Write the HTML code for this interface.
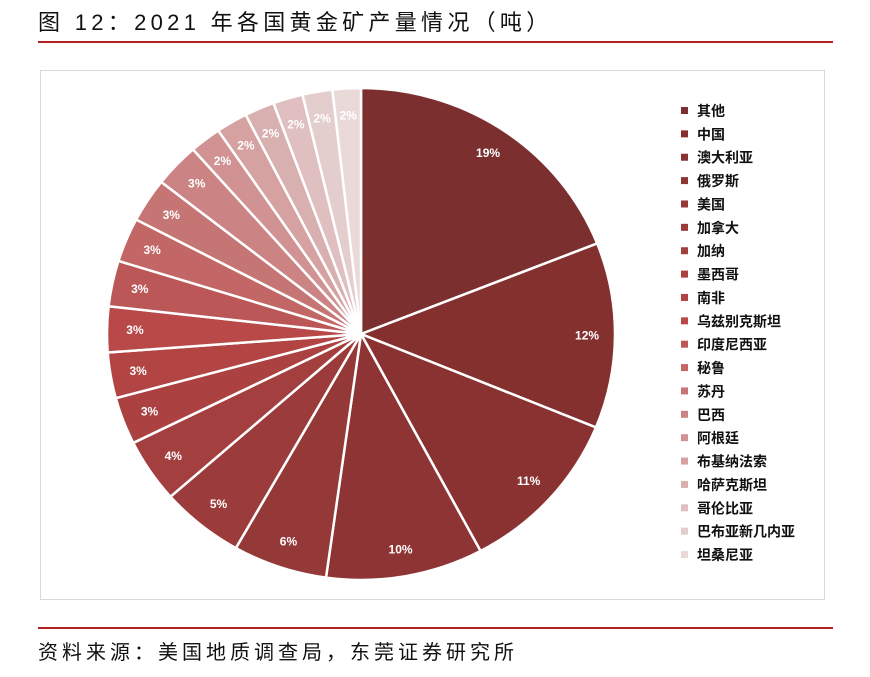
<!DOCTYPE html>
<html><head><meta charset="utf-8"><style>
body{margin:0;width:870px;height:677px;background:#fff;font-family:"Liberation Sans","Noto Sans CJK SC",sans-serif;position:relative;overflow:hidden}
.title{position:absolute;left:38px;top:5px;font-size:22px;color:#111;letter-spacing:4.3px}
.rule{position:absolute;left:38px;width:795px;height:2px;background:#b22222}
.src{position:absolute;left:38px;top:636px;font-size:20px;color:#111;letter-spacing:4px}
.frame{position:absolute;left:40px;top:70px;width:785px;height:530px;border:1px solid #d9d9d9;box-sizing:border-box}
</style></head><body>
<div class="title">图 12：2021 年各国黄金矿产量情况（吨）</div>
<div class="rule" style="top:41px"></div>
<div class="frame"></div>
<svg id="chart" width="870" height="677" style="position:absolute;left:0;top:0"></svg>
<div class="rule" style="top:627px"></div>
<div class="src">资料来源：美国地质调查局，东莞证券研究所</div>
<script>
const categories=["其他","中国","澳大利亚","俄罗斯","美国","加拿大","加纳","墨西哥","南非","乌兹别克斯坦","印度尼西亚","秘鲁","苏丹","巴西","阿根廷","布基纳法索","哈萨克斯坦","哥伦比亚","巴布亚新几内亚","坦桑尼亚"];
const values=[19,12.2,11,10,6,5.3,4.2,3.1,3.0,3.0,3.0,2.9,2.9,2.9,2.0,2.0,1.9,1.9,1.9,1.8];
const pctLabels=["19%","12%","11%","10%","6%","5%","4%","3%","3%","3%","3%","3%","3%","3%","2%","2%","2%","2%","2%","2%"];
const colors=["#7b2f2f","#83302f","#8a3232","#8f3435","#953838","#9c3b3b","#a43f3f","#ab4141","#b24444","#b94949","#bc5757","#c26666","#c67575","#cb8383","#d09292","#d5a1a1","#d9b0b0","#dfbfbf","#e4cdcd","#ead9d9"];
const svg=document.getElementById('chart');const NS='http://www.w3.org/2000/svg';
const cx=361,cy=334,rx=254,ry=246;
const total=values.reduce((a,b)=>a+b,0);
function pt(a,f){return [cx+rx*f*Math.sin(a),cy-ry*f*Math.cos(a)];}
let acc=0;
values.forEach((v,i)=>{
 const a0=acc/total*2*Math.PI;acc+=v;const a1=acc/total*2*Math.PI;
 const p0=pt(a0,1),p1=pt(a1,1);
 const path=document.createElementNS(NS,'path');
 path.setAttribute('d',`M${cx},${cy}L${p0[0]},${p0[1]}A${rx},${ry} 0 ${a1-a0>Math.PI?1:0} 1 ${p1[0]},${p1[1]}Z`);
 path.setAttribute('fill',colors[i]);path.setAttribute('stroke','#fff');path.setAttribute('stroke-width','2.5');
 
 
 svg.appendChild(path);
 const m=(a0+a1)/2,lp=pt(m,0.89);
 const t=document.createElementNS(NS,'text');
 t.setAttribute('x',lp[0]);t.setAttribute('y',lp[1]+4);t.setAttribute('text-anchor','middle');
 t.setAttribute('font-size','12');t.setAttribute('font-weight','bold');t.setAttribute('fill','#fff');
 t.textContent=pctLabels[i];
 
 
 svg.appendChild(t);
 const y=111+i*23.37;
 const r=document.createElementNS(NS,'rect');
 r.setAttribute('x',681);r.setAttribute('y',y-4);r.setAttribute('width',7);r.setAttribute('height',7);r.setAttribute('fill',colors[i]);
 
 
 svg.appendChild(r);
 const lt=document.createElementNS(NS,'text');
 lt.setAttribute('x',697);lt.setAttribute('y',y+5);lt.setAttribute('font-size','14');lt.setAttribute('font-weight','bold');lt.setAttribute('fill','#111');
 lt.setAttribute('font-family','"Liberation Sans","Noto Sans CJK SC",sans-serif');
 lt.textContent=categories[i];
 
 
 svg.appendChild(lt);
});
</script>
</body></html>
